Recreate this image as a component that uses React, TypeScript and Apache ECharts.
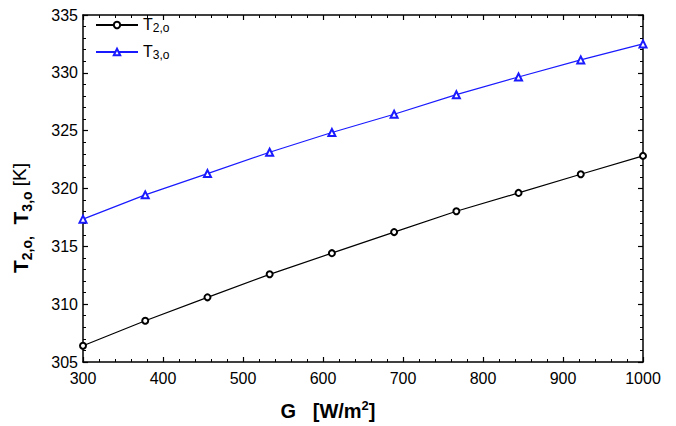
import React, { useEffect, useRef } from 'react';
import * as echarts from 'echarts';

const gValues = [300, 377.8, 455.6, 533.3, 611.1, 688.9, 766.7, 844.4, 922.2, 1000];
const t2o = [306.41, 308.57, 310.59, 312.58, 314.41, 316.23, 318.03, 319.62, 321.23, 322.82];
const t3o = [317.35, 319.45, 321.29, 323.13, 324.84, 326.42, 328.11, 329.64, 331.12, 332.5];
const seriesNames = ['T2,o', 'T3,o'];
const xRange = [300, 1000];
const yRange = [305, 335];

const FONT = 'Liberation Sans, Arial, sans-serif';

export default function App() {
  const ref = useRef<HTMLDivElement>(null);
  useEffect(() => {
    if (!ref.current) return;
    const chart = echarts.init(ref.current, undefined, { renderer: 'svg' });
    const axisCommon = {
      axisLine: { show: true, onZero: false, lineStyle: { color: '#000', width: 1.5 } },
      axisTick: { show: true, inside: true, length: 5, lineStyle: { color: '#000', width: 1.2 } },
      minorTick: { show: true, splitNumber: 5, length: 3, lineStyle: { color: '#000', width: 1 } },
      splitLine: { show: false },
    };
    const labelStyle = { color: '#000', fontFamily: FONT, fontSize: 16, formatter: (v: number) => String(v) };
    const option: any = {
      animation: false,
      grid: { left: 83, right: 33, top: 15, bottom: 64 },
      legend: {
        left: 95,
        top: 16,
        orient: 'vertical',
        padding: 0,
        itemGap: 9,
        itemWidth: 42,
        itemHeight: 8,
        data: seriesNames,
        formatter: (name: string) => `{m|T}{s|${name.slice(1)}}`,
        textStyle: {
          color: '#000',
          fontFamily: FONT,
          rich: {
            m: { fontSize: 16, fontFamily: FONT, color: '#000', lineHeight: 18, verticalAlign: 'top' },
            s: { fontSize: 12, fontFamily: FONT, color: '#000', lineHeight: 12, verticalAlign: 'bottom' },
          },
        },
      },
      xAxis: [
        {
          type: 'value', min: xRange[0], max: xRange[1], interval: 100, position: 'bottom',
          ...axisCommon,
          axisLabel: { ...labelStyle, margin: 8 },
        },
        {
          type: 'value', min: xRange[0], max: xRange[1], interval: 100, position: 'top',
          ...axisCommon,
          axisLabel: { show: false },
        },
      ],
      yAxis: [
        {
          type: 'value', min: yRange[0], max: yRange[1], interval: 5, position: 'left',
          ...axisCommon,
          axisLabel: { ...labelStyle, margin: 5 },
        },
        {
          type: 'value', min: yRange[0], max: yRange[1], interval: 5, position: 'right',
          ...axisCommon,
          axisLabel: { show: false },
        },
      ],
      series: [
        {
          name: seriesNames[0],
          type: 'line',
          data: gValues.map((g, i) => [g, t2o[i]]),
          symbol: 'emptyCircle',
          symbolSize: 6,
          lineStyle: { color: '#000', width: 1.2 },
          itemStyle: { color: '#000', borderWidth: 1 },
        },
        {
          name: seriesNames[1],
          type: 'line',
          data: gValues.map((g, i) => [g, t3o[i]]),
          symbol: 'emptyTriangle',
          symbolSize: 7,
          lineStyle: { color: '#1a1aff', width: 1.2 },
          itemStyle: { color: '#1a1aff', borderWidth: 1.2 },
        },
      ],
      graphic: [
        {
          type: 'text',
          x: 328,
          y: 410,
          style: {
            text: '{b|G   [W/m}{p|2}{b|]}',
            align: 'center',
            verticalAlign: 'middle',
            rich: {
              b: { fontSize: 20, fontWeight: 'bold', fontFamily: FONT, fill: '#000', lineHeight: 22, verticalAlign: 'bottom' },
              p: { fontSize: 13, fontWeight: 'bold', fontFamily: FONT, fill: '#000', lineHeight: 12, verticalAlign: 'top' },
            },
          },
        },
        {
          type: 'text',
          x: 22,
          y: 218,
          rotation: Math.PI / 2,
          style: {
            text: '{b|T}{s|2,o,}{b|  T}{s|3,o}{n| [K]}',
            align: 'center',
            verticalAlign: 'middle',
            rich: {
              b: { fontSize: 21, fontWeight: 'bold', fontFamily: FONT, fill: '#000', lineHeight: 24, verticalAlign: 'top' },
              s: { fontSize: 14, fontWeight: 'bold', fontFamily: FONT, fill: '#000', lineHeight: 14, verticalAlign: 'bottom' },
              n: { fontSize: 19, fontFamily: FONT, fill: '#000', lineHeight: 24, verticalAlign: 'top' },
            },
          },
        },
      ],
    };
    chart.setOption(option);
    return () => chart.dispose();
  }, []);
  return (
    <div
      ref={ref}
      style={{ position: 'absolute', left: 0, top: 0, width: 676, height: 426, background: '#fff' }}
    />
  );
}
